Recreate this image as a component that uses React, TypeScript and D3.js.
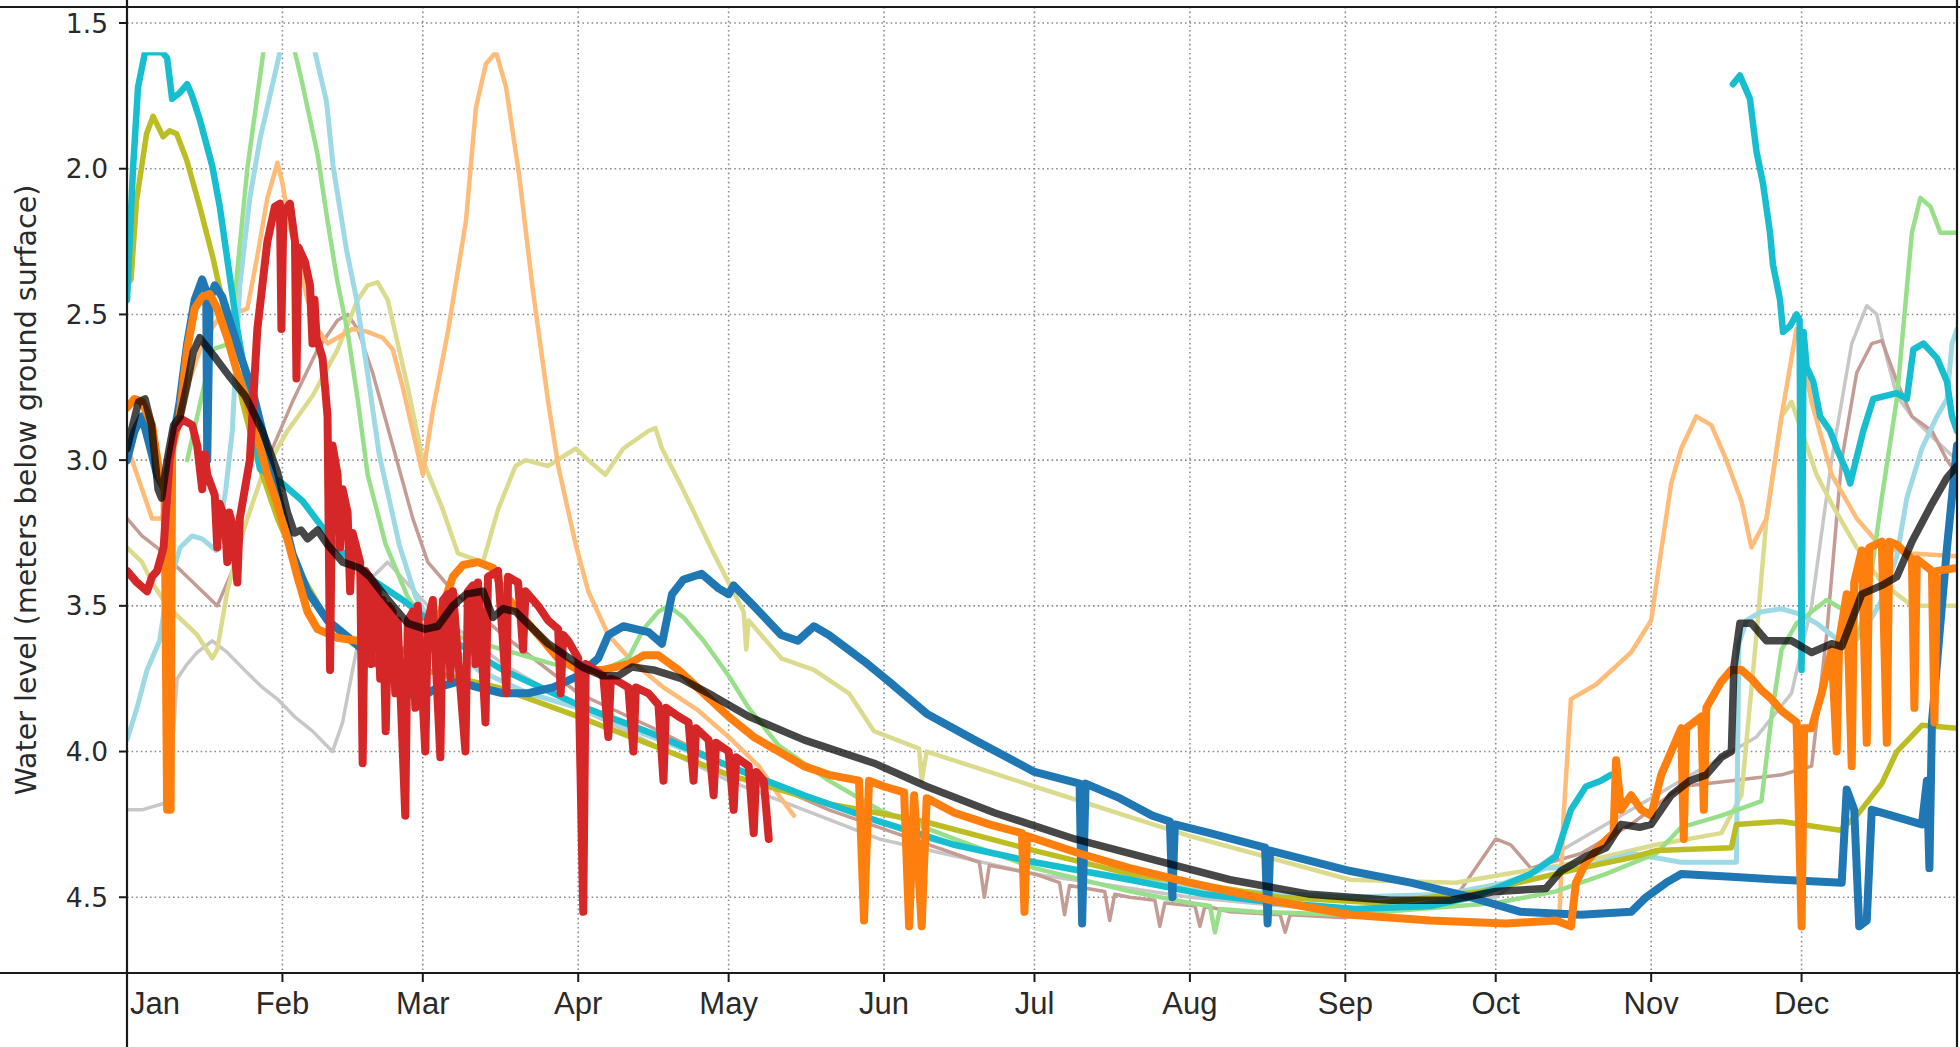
import React from "react";
import * as d3 from "d3";

type Pt = [number, number] | null;

// ---- data: [day of year (Jan 1 = 0), water level in m below surface]; null = gap ----
const Y_TICKS = [1.5, 2.0, 2.5, 3.0, 3.5, 4.0, 4.5];
const Y_TITLE = "Water level (meters below ground surface)";

const lightGray: Pt[] = [
  [0, 4.2], [3, 4.2], [5, 4.19], [7, 4.18], [8, 4.17], [9, 4.0], [10, 3.75], [12, 3.7], [14, 3.66], [17, 3.62],
  [20, 3.66], [24, 3.73], [27, 3.78], [30, 3.82], [33.4, 3.88], [37, 3.93], [41, 4.0], [43, 3.9], [45, 3.72],
  [47, 3.55], [49, 3.4], [52, 3.35], [60, 3.5], [75, 3.7], [90, 3.85], [120, 4.1], [150, 4.3], [181, 4.42],
  [212, 4.5], [243, 4.55], [273, 4.5], [285, 4.35], [300, 4.2], [315, 4.05], [325, 3.95], [332, 3.8], [336, 3.5],
  [340, 3.0], [344, 2.6], [347, 2.47], [349, 2.5], [351, 2.65], [353, 2.78], [356, 2.85], [360, 2.92], [365, 3.0],
];

const lightBrown: Pt[] = [
  [0, 3.2], [3, 3.26], [6, 3.3], [9, 3.35], [12, 3.4], [15, 3.45], [18, 3.5], [21, 3.38], [24, 3.2], [28, 3.0],
  [33, 2.8], [38, 2.62], [42, 2.52], [44, 2.5], [46, 2.55], [49, 2.7], [53, 2.95], [57, 3.2], [60, 3.35], [65, 3.45],
  [75, 3.6], [90, 3.8], [105, 3.92], [120, 4.05], [140, 4.2], [160, 4.32], [170, 4.38], [171, 4.5], [172, 4.39],
  [181, 4.42], [186, 4.45], [187, 4.56], [188, 4.46], [195, 4.48], [196, 4.58], [197, 4.49], [200, 4.5],
  [205, 4.51], [206, 4.6], [207, 4.52], [213, 4.53], [214, 4.6], [215, 4.53], [220, 4.55], [230, 4.56],
  [231, 4.62], [232, 4.56], [243, 4.57], [265, 4.5], [271, 4.35], [273, 4.3], [276, 4.32], [280, 4.4],
  [290, 4.35], [300, 4.25], [310, 4.12], [320, 4.1], [330, 4.08], [336, 4.05], [339, 3.6], [342, 3.0], [345, 2.7],
  [348, 2.6], [350, 2.59], [353, 2.73], [356, 2.85], [360, 2.9], [363, 3.0], [365, 3.05],
];

const lightOlive: Pt[] = [
  [0, 3.3], [3, 3.35], [5, 3.42], [8, 3.5], [11, 3.55], [14, 3.6], [17, 3.68], [18, 3.65], [20, 3.45], [23, 3.25],
  [27, 3.05], [32, 2.9], [37, 2.78], [42, 2.62], [46, 2.45], [48, 2.4], [50, 2.39], [52, 2.45], [54, 2.6], [56, 2.75],
  [59, 3.0], [63, 3.17], [66, 3.32], [71, 3.35], [74, 3.17], [77.5, 3.02], [79.5, 3.0], [84, 3.02], [89.5, 2.96],
  [92, 3.0], [95.4, 3.05], [99, 2.96], [104, 2.9], [105.4, 2.89], [106.7, 2.96], [110.6, 3.09], [117, 3.32],
  [123, 3.52], [123.5, 3.65], [124, 3.55], [130.5, 3.68], [137, 3.72], [144, 3.8], [149, 3.93], [158, 3.99],
  [158.5, 4.1], [159.5, 4.0], [181, 4.12], [212, 4.29], [244, 4.44], [265, 4.45], [275, 4.42], [290, 4.38],
  [305, 4.32], [318, 4.28], [322, 4.15], [325, 3.6], [327, 3.2], [330, 2.85], [332, 2.8], [334, 2.9], [337, 3.05],
  [340, 3.15], [345, 3.3], [350, 3.42], [356, 3.5], [365, 3.5],
];

const lightOrange: Pt[] = [
  [0, 2.95], [2, 3.05], [5, 3.2], [7, 3.2], [9, 3.0], [12, 2.75], [15, 2.6], [18, 2.52], [21, 2.5], [24, 2.48],
  [26, 2.3], [28, 2.1], [30, 1.98], [31, 2.05], [32.5, 2.2], [34, 2.3], [36, 2.45], [38, 2.55], [40, 2.6], [42, 2.58],
  [45, 2.55], [48, 2.56], [51, 2.58], [53, 2.62], [55, 2.75], [57, 2.9], [59, 3.05], [61, 2.83], [64, 2.56],
  [67.6, 2.18], [69.6, 1.79], [71.6, 1.64], [73.6, 1.6], [75.6, 1.72], [78.2, 2.02], [80.9, 2.41], [84, 2.8],
  [86, 3.02], [89.5, 3.29], [92, 3.45], [96, 3.6], [100.7, 3.69], [107, 3.78], [114, 3.86], [120, 3.95], [126, 4.05],
  [130, 4.15], [133, 4.22], null,
  [285.7, 4.57], [286.5, 4.23], [288, 3.82], [293, 3.77], [300, 3.66], [304, 3.55], [306, 3.31], [308, 3.08],
  [310, 2.96], [313, 2.85], [316, 2.88], [319, 3.0], [322, 3.14], [324, 3.3], [327, 3.2], [330, 2.85], [333, 2.55],
  [336, 2.8], [340, 3.05], [345, 3.2], [350, 3.3], [356, 3.32], [365, 3.33],
];

const lightCyan: Pt[] = [
  [0, 3.96], [2, 3.85], [4, 3.72], [6.5, 3.62], [8, 3.45], [10.6, 3.3], [13, 3.26], [15, 3.27], [17.8, 3.31],
  [19.7, 3.1], [21, 2.9], [22.5, 2.4], [24.5, 2.1], [26.5, 1.9], [28.5, 1.75], [30.5, 1.6], null,
  [37.5, 1.6], [39.8, 1.77], [41.1, 1.99], [43.8, 2.28], [45.8, 2.45], [47.8, 2.68], [50.3, 2.98], [54.3, 3.29],
  [57.6, 3.47], [62, 3.6], [70, 3.72], [80, 3.8], [90, 3.85], [100, 3.92], [120, 4.05], [140, 4.18], [160, 4.3],
  [181, 4.38], [212, 4.47], [243, 4.5], [263, 4.49], [275, 4.45], [283, 4.4], [290, 4.4], [300, 4.35], [310, 4.38],
  [321, 4.38], [321.5, 3.63], [323, 3.55], [326, 3.52], [330, 3.51], [334, 3.53], [337, 3.56], [340, 3.6],
  [343, 3.64], [346, 3.6], [350, 3.48], [353, 3.33], [355, 3.13], [358, 2.96], [361, 2.85], [363, 2.79], [364, 2.6],
  [365, 2.55],
];

const lightGreen: Pt[] = [
  [12, 3.0], [14, 2.85], [17, 2.62], [20.5, 2.6], [22, 2.35], [24, 2.0], [26, 1.75], [27.2, 1.6], null,
  [33.5, 1.6], [35, 1.71], [38, 1.95], [40, 2.18], [42, 2.39], [44, 2.56], [46, 2.79], [48, 3.05], [51.6, 3.29],
  [56, 3.47], [58, 3.52], [65, 3.6], [75, 3.65], [85, 3.7], [95, 3.72], [100, 3.68], [103, 3.58], [106, 3.52],
  [108, 3.5], [111, 3.54], [115, 3.62], [120, 3.74], [124, 3.85], [130, 3.98], [140, 4.1], [150, 4.2], [165, 4.3],
  [181, 4.4], [200, 4.48], [212, 4.52], [216, 4.53], [217, 4.62], [218, 4.54], [225, 4.55], [243, 4.56],
  [273, 4.52], [285, 4.48], [295, 4.42], [305, 4.35], [310, 4.26], [318, 4.22], [326, 4.17], [328, 3.88],
  [330, 3.65], [333, 3.56], [336, 3.52], [339, 3.48], [342, 3.51], [345, 3.61], [347, 3.5], [350, 3.13],
  [353, 2.79], [356, 2.22], [357.7, 2.1], [359.7, 2.13], [361.7, 2.22], [365, 2.22],
];

const olive: Pt[] = [
  [0, 2.4], [0.8, 2.38], [1.9, 2.11], [3.9, 1.88], [5.2, 1.82], [7.2, 1.89], [8.5, 1.87], [9.9, 1.88], [11.9, 1.97],
  [14.5, 2.13], [17.2, 2.31], [19, 2.45], [21, 2.62], [23, 2.8], [26, 3.0], [30, 3.2], [35, 3.4], [40, 3.55],
  [45, 3.63], [50, 3.68], [59, 3.72], [64, 3.74], [74, 3.78], [90, 3.88], [105, 3.98], [120, 4.08], [140, 4.18],
  [159, 4.24], [181, 4.34], [200, 4.42], [212, 4.45], [230, 4.5], [250, 4.52], [270, 4.48], [285, 4.42],
  [290, 4.4], [301, 4.36], [305, 4.34], [320, 4.33], [321, 4.25], [330, 4.24], [341.7, 4.27], [345, 4.22],
  [350, 4.11], [353, 4.0], [358, 3.91], [365, 3.92],
];

const cyan: Pt[] = [
  [0, 2.45], [1.2, 2.0], [2.2, 1.72], [3.6, 1.6], [5, 1.6], [7, 1.6], [8, 1.62], [9, 1.76], [10.5, 1.74],
  [12, 1.71], [13, 1.75], [14.5, 1.83], [17, 1.99], [18.5, 2.13], [20.5, 2.37], [22, 2.55], [24, 2.75],
  [26.5, 3.03], [31, 3.08], [35, 3.14], [38.5, 3.22], [42, 3.3], [48, 3.4], [55, 3.48], [58, 3.52], [65, 3.62],
  [75, 3.72], [90, 3.84], [105, 3.94], [120, 4.05], [135, 4.15], [150, 4.24], [165, 4.32], [181, 4.38],
  [200, 4.44], [215, 4.49], [230, 4.52], [245, 4.54], [260, 4.53], [268, 4.5], [273, 4.47], [280, 4.42],
  [285, 4.36], [288, 4.2], [291, 4.12], [294, 4.1], [296, 4.08], null,
  [320.3, 1.71], [321.7, 1.68], [322.7, 1.72], [323.7, 1.76], [325, 1.94], [326.3, 2.05], [327.7, 2.22],
  [328.3, 2.33], [329.7, 2.45], [330.3, 2.56], [331.7, 2.54], [333, 2.5], [333.6, 2.52], [334, 3.72], [334.4, 2.56],
  [335, 2.68], [336.3, 2.73], [337.7, 2.85], [339.7, 2.9], [341, 2.96], [343, 3.04], [343.7, 3.08], [346.3, 2.9],
  [348.3, 2.79], [353, 2.77], [355, 2.79], [356.3, 2.62], [358.3, 2.6], [361, 2.65], [363, 2.73], [364, 2.85],
  [365, 2.9],
];

const blue: Pt[] = [
  [0, 3.0], [1.5, 2.9], [3, 2.85], [4.5, 2.95], [6, 3.05], [7.5, 3.1], [9, 2.95], [10.5, 2.8], [12, 2.6],
  [13.5, 2.45], [15, 2.38], [15.8, 2.42], [16, 3.0], [16.5, 2.45], [17.5, 2.4], [19, 2.44], [21, 2.55], [23, 2.66],
  [25, 2.76], [27, 2.9], [29, 3.04], [31, 3.18], [33, 3.32], [36, 3.45], [40, 3.55], [45, 3.62], [50, 3.7],
  [55, 3.78], [58, 3.82], [62, 3.78], [66, 3.76], [70, 3.78], [75, 3.8], [80, 3.8], [85, 3.78], [90, 3.74],
  [94, 3.68], [96, 3.6], [99, 3.57], [104, 3.59], [106.7, 3.63], [108.7, 3.46], [111, 3.41], [114.6, 3.39],
  [118, 3.44], [120, 3.46], [121, 3.43], [125, 3.5], [130.5, 3.6], [133.8, 3.62], [137, 3.57], [140, 3.6],
  [147, 3.69], [152, 3.76], [159.5, 3.87], [169, 3.96], [181, 4.07], [190, 4.11], [190.5, 4.59], [191.2, 4.11],
  [198, 4.16], [204.5, 4.22], [208, 4.24], [208.5, 4.5], [209, 4.25], [216, 4.28], [227, 4.33], [227.5, 4.59],
  [228, 4.34], [244, 4.41], [256, 4.45], [268, 4.5], [278, 4.55], [290, 4.56], [300, 4.55], [303, 4.5],
  [307, 4.45], [310, 4.42], [320, 4.43], [330, 4.44], [342, 4.45], [343, 4.13], [344.5, 4.2], [345.5, 4.6],
  [347, 4.58], [348, 4.2], [352, 4.22], [358, 4.25], [359, 4.1], [359.5, 4.4], [360, 3.9], [361.5, 3.6],
  [363, 3.3], [365, 2.95],
];

const orange: Pt[] = [
  [0, 2.82], [1.5, 2.79], [3, 2.8], [5, 2.88], [6.5, 3.05], [7.5, 3.1], [8, 4.2], [8.7, 4.2], [9, 2.95],
  [10.5, 2.85], [12, 2.62], [13.5, 2.48], [15, 2.44], [16.5, 2.43], [18, 2.48], [20, 2.58], [22, 2.7], [24, 2.8],
  [26, 2.92], [28, 3.05], [30, 3.15], [32, 3.27], [34, 3.4], [36, 3.52], [38, 3.58], [42, 3.61], [46, 3.62],
  [50, 3.64], [54, 3.65], [58, 3.66], [61, 3.6], [63, 3.5], [65, 3.4], [67, 3.36], [70, 3.35], [73, 3.37],
  [75, 3.45], [78, 3.52], [82, 3.6], [86, 3.68], [90, 3.72], [95, 3.72], [100, 3.7], [103, 3.67], [106, 3.67],
  [110, 3.72], [115, 3.8], [120, 3.88], [125, 3.95], [130, 4.0], [135, 4.05], [140, 4.08], [146, 4.1],
  [147, 4.58], [148, 4.1], [151, 4.12], [155, 4.14], [156, 4.6], [157, 4.15], [158.5, 4.6], [159.5, 4.16],
  [165, 4.21], [172, 4.25], [178.5, 4.28], [179, 4.55], [179.5, 4.29], [190, 4.35], [200, 4.4], [212, 4.45],
  [228, 4.51], [244, 4.56], [260, 4.58], [275, 4.59], [285, 4.58], [288, 4.6], [289, 4.45], [291, 4.38],
  [294, 4.32], [296.5, 4.28], [297, 4.03], [298, 4.2], [300, 4.15], [302, 4.2], [304, 4.22], [306, 4.08],
  [308, 4.0], [310, 3.92], [310.5, 4.3], [311, 3.92], [314, 3.88], [314.5, 4.2], [315, 3.85], [318, 3.76],
  [320, 3.72], [322, 3.72], [324, 3.75], [326, 3.79], [328, 3.82], [330, 3.86], [333, 3.9], [334, 4.6],
  [334.5, 3.92], [336, 3.92], [338, 3.8], [340, 3.65], [341, 4.0], [341.5, 3.62], [343, 3.46], [344, 4.05],
  [344.5, 3.42], [346, 3.31], [347, 3.97], [347.5, 3.3], [350, 3.28], [351, 3.97], [351.5, 3.28], [353, 3.29],
  [356, 3.34], [356.5, 3.85], [357, 3.34], [360, 3.38], [360.5, 3.9], [361, 3.38], [365, 3.37],
];

const red: Pt[] = [
  [0, 3.38], [2, 3.42], [4, 3.45], [5, 3.4], [6, 3.38], [7.3, 3.3], [8.5, 3.0], [9.5, 2.9], [11, 2.86], [13, 2.88],
  [14, 2.95], [15, 3.1], [15.5, 2.98], [16, 3.05], [17.5, 3.12], [18, 3.3], [18.5, 3.15], [19.5, 3.2], [20, 3.35],
  [20.4, 3.18], [21, 3.22], [22, 3.42], [22.5, 3.2], [23.5, 3.1], [24.5, 3.0], [26, 2.55], [27, 2.4], [28, 2.25],
  [29.5, 2.13], [30.5, 2.12], [30.8, 2.55], [31.2, 2.15], [32.5, 2.12], [33.5, 2.25], [33.8, 2.72], [34.2, 2.27],
  [35.5, 2.32], [36.5, 2.4], [37, 2.6], [37.4, 2.45], [37.8, 2.58], [39, 2.65], [40, 2.85], [40.5, 3.72],
  [41, 2.95], [42, 3.05], [42.5, 3.3], [43, 3.1], [44, 3.18], [44.5, 3.45], [45, 3.25], [46.5, 3.35], [47, 4.04],
  [47.5, 3.38], [48.3, 3.4], [48.7, 3.7], [49.1, 3.42], [50, 3.45], [50.5, 3.75], [51, 3.48], [51.6, 3.93],
  [52.2, 3.5], [53, 3.52], [53.5, 3.8], [54, 3.55], [55.5, 4.22], [56, 3.55], [57, 3.52], [57.5, 3.85], [58, 3.5],
  [59.5, 4.0], [60, 3.55], [61, 3.48], [62.5, 4.02], [63, 3.48], [64, 3.46], [64.5, 3.75], [65, 3.45], [67.5, 4.0],
  [68, 3.45], [69, 3.43], [69.5, 3.7], [70, 3.42], [71.5, 3.9], [72, 3.4], [74, 3.38], [75.7, 3.8], [76, 3.4],
  [78, 3.42], [79, 3.65], [79.5, 3.45], [82, 3.5], [84, 3.55], [86, 3.58], [86.5, 3.8], [87, 3.6], [88, 3.62],
  [90, 3.68], [91, 4.55], [91.5, 3.7], [95, 3.74], [96, 3.95], [96.5, 3.75], [98, 3.76], [100, 3.78], [101, 4.0],
  [101.5, 3.78], [104, 3.8], [106, 3.84], [107, 4.1], [107.5, 3.85], [110, 3.88], [112, 3.9], [113, 4.1],
  [113.5, 3.92], [116, 3.96], [117, 4.15], [117.5, 3.97], [120, 4.0], [121, 4.2], [121.5, 4.02], [124, 4.05],
  [125, 4.28], [125.5, 4.07], [127, 4.1], [128, 4.3],
];

const mean: Pt[] = [
  [0, 2.96], [2.3, 2.8], [3.6, 2.79], [4.9, 2.88], [6.2, 3.1], [6.9, 3.13], [8, 3.0], [9.3, 2.88], [10.6, 2.85],
  [12, 2.74], [13.2, 2.63], [14.5, 2.58], [17.7, 2.65], [20.3, 2.71], [23.6, 2.78], [27, 2.9], [30, 3.04],
  [32, 3.18], [33.4, 3.25], [34.7, 3.24], [36, 3.27], [38, 3.24], [40, 3.29], [43, 3.35], [46.4, 3.37],
  [48.4, 3.4], [51.6, 3.47], [56, 3.56], [59.5, 3.58], [62, 3.57], [65, 3.5], [67.6, 3.46], [71, 3.45], [73, 3.54],
  [75, 3.51], [77.5, 3.52], [84, 3.63], [90.8, 3.71], [94.8, 3.74], [98, 3.74], [100.7, 3.71], [105, 3.72],
  [110.6, 3.75], [117, 3.81], [124, 3.88], [135, 3.96], [149, 4.04], [159.5, 4.12], [173, 4.21], [189, 4.3],
  [204.5, 4.37], [220, 4.44], [236, 4.49], [252, 4.51], [264, 4.51], [273, 4.48], [283, 4.47], [286, 4.41],
  [291, 4.36], [295, 4.33], [298, 4.25], [301.7, 4.26], [304, 4.25], [308, 4.15], [311.7, 4.1], [315, 4.08],
  [318, 4.02], [320, 4.0], [320.5, 3.71], [321.7, 3.56], [324, 3.56], [327, 3.62], [332, 3.62], [336, 3.66],
  [340, 3.63], [342, 3.64], [346, 3.46], [350, 3.43], [353, 3.4], [356, 3.28], [360, 3.15], [363, 3.06], [365, 3.02],
];

// ---- styles (kept separate from the values) ----
const SERIES = [
  { key: "lightGray", data: lightGray, color: "#c7c7c7", width: 3.5, opacity: 1 },
  { key: "lightBrown", data: lightBrown, color: "#c49c94", width: 3.5, opacity: 1 },
  { key: "lightOlive", data: lightOlive, color: "#dbdb8d", width: 4.5, opacity: 1 },
  { key: "lightOrange", data: lightOrange, color: "#ffbb78", width: 4.5, opacity: 1 },
  { key: "lightCyan", data: lightCyan, color: "#9edae5", width: 5, opacity: 1 },
  { key: "lightGreen", data: lightGreen, color: "#98df8a", width: 4.5, opacity: 1 },
  { key: "olive", data: olive, color: "#bcbd22", width: 5.5, opacity: 1 },
  { key: "cyan", data: cyan, color: "#17becf", width: 6.5, opacity: 1 },
  { key: "blue", data: blue, color: "#1f77b4", width: 8, opacity: 1 },
  { key: "orange", data: orange, color: "#ff7f0e", width: 8, opacity: 1 },
  { key: "red", data: red, color: "#d62728", width: 8, opacity: 1 },
  { key: "mean", data: mean, color: "#000000", width: 7.5, opacity: 0.72 },
];

const W = 1960;
const H = 1047;
const PLOT = { left: 127, right: 1957, top: 7, bottom: 973 };

export default function App() {
  const t0 = Date.UTC(2001, 0, 1);
  const t1 = Date.UTC(2002, 0, 1);
  const x = d3.scaleUtc().domain([new Date(t0), new Date(t1)]).range([PLOT.left, PLOT.right]);
  const y = d3.scaleLinear().domain([1.445, 4.76]).range([PLOT.top, PLOT.bottom]);
  const dayToDate = (d: number) => new Date(t0 + d * 86400000);

  const line = d3
    .line<Pt>()
    .defined((p) => p !== null)
    .x((p) => x(dayToDate((p as [number, number])[0])))
    .y((p) => y((p as [number, number])[1]))
    .curve(d3.curveLinear);

  const months = d3.utcMonth.range(new Date(t0), new Date(t1));
  const fmtMonth = d3.utcFormat("%b");
  const fmtY = d3.format(".1f");
  const clipTop = y(1.6);

  return (
    <svg
      width={W}
      height={H}
      viewBox={`0 0 ${W} ${H}`}
      style={{ position: "absolute", left: 0, top: 0, background: "#fff" }}
    >
      <defs>
        <clipPath id="plotClip">
          <rect x={PLOT.left} y={clipTop} width={PLOT.right - PLOT.left} height={PLOT.bottom - clipTop} />
        </clipPath>
      </defs>
      <rect x={0} y={0} width={W} height={H} fill="#fff" />

      {/* grid */}
      <g stroke="#8c8c8c" strokeWidth={1.6} strokeDasharray="1.6 3" fill="none">
        {Y_TICKS.map((v) => (
          <line key={"gy" + v} x1={PLOT.left} x2={PLOT.right} y1={y(v)} y2={y(v)} />
        ))}
        {months.slice(1).map((m) => (
          <line key={"gx" + m.getTime()} x1={x(m)} x2={x(m)} y1={PLOT.top} y2={PLOT.bottom} />
        ))}
      </g>

      {/* series */}
      <g clipPath="url(#plotClip)" fill="none" strokeLinejoin="round" strokeLinecap="round">
        {SERIES.map((s) => (
          <path
            key={s.key}
            d={line(s.data) || ""}
            stroke={s.color}
            strokeWidth={s.width}
            strokeOpacity={s.opacity}
          />
        ))}
      </g>

      {/* frame */}
      <g stroke="#1a1a1a" strokeWidth={2.2}>
        <line x1={0} x2={W} y1={PLOT.top} y2={PLOT.top} />
        <line x1={0} x2={W} y1={PLOT.bottom} y2={PLOT.bottom} />
        <line x1={PLOT.left} x2={PLOT.left} y1={0} y2={H} />
        <line x1={PLOT.right} x2={PLOT.right} y1={0} y2={H} />
      </g>

      {/* y axis ticks and labels */}
      <g>
        {Y_TICKS.map((v) => (
          <g key={"yt" + v}>
            <line x1={PLOT.left - 8} x2={PLOT.left} y1={y(v)} y2={y(v)} stroke="#1a1a1a" strokeWidth={2} />
            <text
              x={108}
              y={y(v)}
              dy="0.36em"
              textAnchor="end"
              fontFamily="'DejaVu Sans', Verdana, sans-serif"
              fontSize={26.5}
              fill="#2a2a2a"
            >
              {fmtY(v)}
            </text>
          </g>
        ))}
      </g>

      {/* x axis ticks and labels */}
      <g>
        {months.map((m, i) => (
          <g key={"xt" + m.getTime()}>
            {i > 0 && (
              <line x1={x(m)} x2={x(m)} y1={PLOT.bottom} y2={PLOT.bottom + 9} stroke="#1a1a1a" strokeWidth={2} />
            )}
            <text
              x={i === 0 ? PLOT.left + 3 : x(m)}
              y={1014}
              textAnchor={i === 0 ? "start" : "middle"}
              fontFamily="'Liberation Sans', Arial, sans-serif"
              fontSize={31}
              fill="#2a2a2a"
            >
              {fmtMonth(m)}
            </text>
          </g>
        ))}
      </g>

      {/* y axis title */}
      <text
        transform={`translate(36, ${(PLOT.top + PLOT.bottom) / 2}) rotate(-90)`}
        textAnchor="middle"
        fontFamily="'DejaVu Sans', Verdana, sans-serif"
        fontSize={28.5}
        fill="#2a2a2a"
      >
        {Y_TITLE}
      </text>
    </svg>
  );
}
